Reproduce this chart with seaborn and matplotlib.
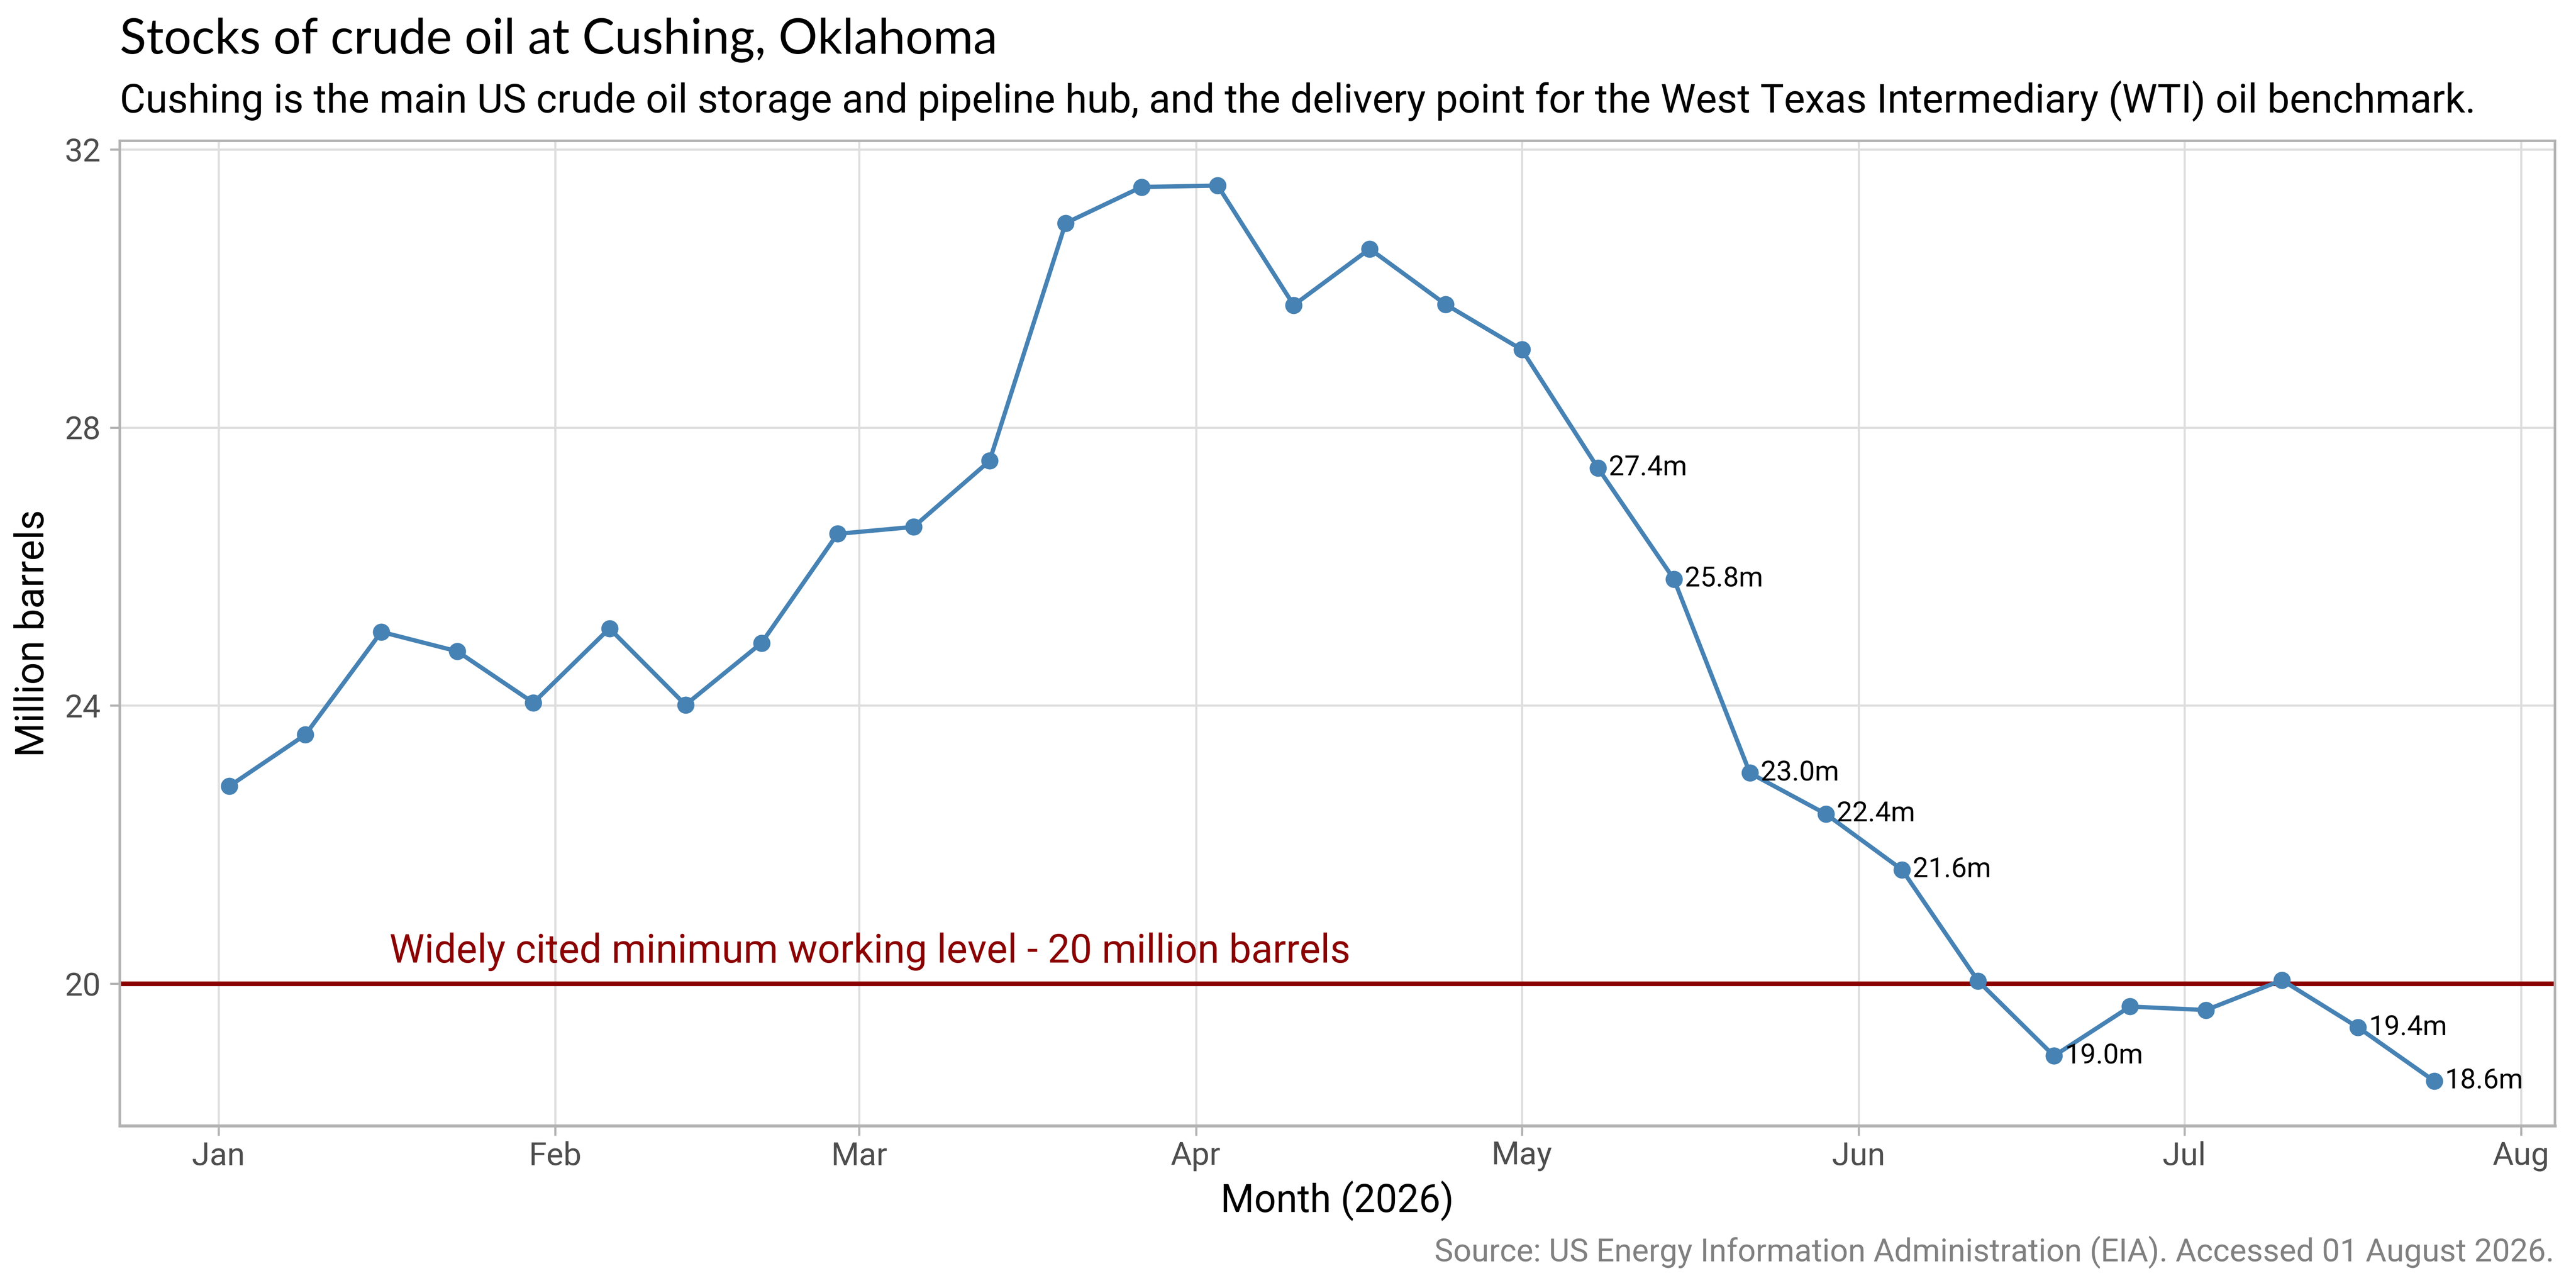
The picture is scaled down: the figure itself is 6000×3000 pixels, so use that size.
import pandas as pd
import matplotlib.pyplot as plt
import matplotlib.dates as mdates
import seaborn as sns

# Weekly stocks at Cushing (million barrels), week ending Friday
weeks = pd.date_range('2026-01-02', '2026-07-24', freq='7D')
stocks = [22.84, 23.58, 25.06, 24.78, 24.04, 25.11, 24.01, 24.90, 26.47, 26.57,
          27.52, 30.94, 31.46, 31.48, 29.76, 30.57, 29.77, 29.12, 27.42, 25.82,
          23.03, 22.44, 21.64, 20.04, 18.96, 19.67, 19.62, 20.05, 19.37, 18.60]
# which weeks get a value label
labelled = [False] * 18 + [True, True, True, True, True, False, True,
                           False, False, False, True, True]

min_level = 20
y_ticks = [20, 24, 28, 32]

title = 'Stocks of crude oil at Cushing, Oklahoma'
subtitle = ('Cushing is the main US crude oil storage and pipeline hub, and the delivery '
            'point for the West Texas Intermediary (WTI) oil benchmark.')
caption = 'Source: US Energy Information Administration (EIA). Accessed 01 August 2026.'
min_label = 'Widely cited minimum working level - 20 million barrels'

df = pd.DataFrame({'week': weeks, 'stocks': stocks, 'labelled': labelled})

sns.set_theme(style='whitegrid')
plt.rcParams['font.family'] = ['Roboto', 'DejaVu Sans']

fig = plt.figure(figsize=(20, 10), dpi=300)
ax = fig.add_axes([279 / 6000, 1 - 2622 / 3000, (5951 - 279) / 6000, (2622 - 328) / 3000])

ax.axhline(min_level, color='#8B0000', linewidth=2.6, zorder=1.5)
ax.text(pd.Timestamp('2026-03-02'), 20.3, min_label, color='#8B0000', fontsize=22.1,
        ha='center', va='baseline')

sns.lineplot(data=df, x='week', y='stocks', ax=ax, color='steelblue', linewidth=2.4,
             marker='o', markersize=9.6, markeredgewidth=0, zorder=3)

for _, row in df[df['labelled']].iterrows():
    ax.annotate(f"{row['stocks']:.1f}m", (row['week'], row['stocks']),
                xytext=(6, 0), textcoords='offset points', ha='left', va='center',
                fontsize=15.5, color='black', zorder=4)

# ggplot-style 5% padding around the data range
ax.set_xlim(pd.Timestamp('2025-12-22 22:00'), pd.Timestamp('2026-08-04 03:00'))
ax.margins(y=0.05)
ax.set_yticks(y_ticks)
ax.xaxis.set_major_locator(mdates.MonthLocator())
ax.xaxis.set_major_formatter(mdates.DateFormatter('%b'))
ax.grid(True, color='#DEDEDE', linewidth=1.2)
ax.set_axisbelow(True)
for side in ['left', 'right', 'top', 'bottom']:
    ax.spines[side].set_color('#B3B3B3')
    ax.spines[side].set_linewidth(1.4)
ax.spines['bottom'].set_linewidth(1.7)
ax.tick_params(axis='both', colors='#B3B3B3', labelcolor='#4D4D4D', labelsize=18,
               length=5.5, width=1.2, bottom=True, left=True)
ax.tick_params(axis='y', pad=5)
ax.tick_params(axis='x', pad=3)

ax.set_xlabel('Month (2026)', fontsize=21.5, color='black')
ax.xaxis.label.set_verticalalignment('baseline')
ax.xaxis.set_label_coords(0.5, -(2822 - 2622) / 2294)
ax.set_ylabel('Million barrels', fontsize=22, color='black')
ax.yaxis.label.set_verticalalignment('center')
ax.yaxis.set_label_coords((77 - 279) / 5672, 0.5)

fig.text(279 / 6000, 1 - 125 / 3000, title, fontsize=27.3, family=['Lato', 'DejaVu Sans'],
         ha='left', va='baseline', color='black')
fig.text(279 / 6000, 1 - 262 / 3000, subtitle, fontsize=22.2, ha='left', va='baseline',
         color='black')
fig.text(5949 / 6000, 1 - 2938 / 3000, caption, fontsize=17.8, ha='right', va='baseline',
         color='#808080')

fig.savefig('out.png', dpi=300)
